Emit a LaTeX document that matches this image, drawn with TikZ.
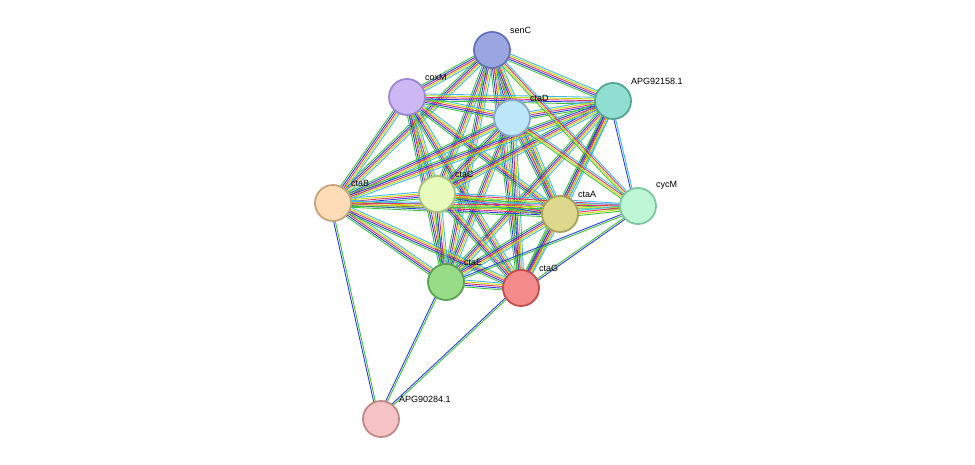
\documentclass[tikz,border=0pt]{standalone}
\usepackage{fontspec}
\setmainfont{Liberation Sans}
\usetikzlibrary{calc}
\definecolor{egreen}{HTML}{3CC13C}
\definecolor{eblue}{HTML}{2E3BE0}
\definecolor{ered}{HTML}{E0306A}
\definecolor{eyel}{HTML}{C4D800}
\definecolor{ecyan}{HTML}{40B8E8}
\definecolor{eblack}{HTML}{303030}
\definecolor{fsenC}{HTML}{9AA6E0}\definecolor{bsenC}{HTML}{6372B8}
\definecolor{fcoxM}{HTML}{CDB8F5}\definecolor{bcoxM}{HTML}{9D87D0}
\definecolor{fctaD}{HTML}{BEE6F9}\definecolor{bctaD}{HTML}{86A8C8}
\definecolor{fapgA}{HTML}{90DDD2}\definecolor{bapgA}{HTML}{55A595}
\definecolor{fctaB}{HTML}{FDDCB7}\definecolor{bctaB}{HTML}{C8A27A}
\definecolor{fctaC}{HTML}{E6FBBC}\definecolor{bctaC}{HTML}{A8C07F}
\definecolor{fctaA}{HTML}{DDD88E}\definecolor{bctaA}{HTML}{A9A25A}
\definecolor{fcycM}{HTML}{BDF7D5}\definecolor{bcycM}{HTML}{7FC79F}
\definecolor{fctaE}{HTML}{98DC88}\definecolor{bctaE}{HTML}{5BA34F}
\definecolor{fctaG}{HTML}{F48A8A}\definecolor{bctaG}{HTML}{C24E4E}
\definecolor{fapgB}{HTML}{F5C3C3}\definecolor{bapgB}{HTML}{BF8A8A}
\tikzset{
  prot/.style={circle, draw=b#1, fill=f#1, line width=1.8pt, minimum size=36pt, inner sep=0pt},
  lab/.style={font=\fontsize{9}{10}\selectfont, anchor=south west, inner sep=1pt},
  edge/.style={line width=0.9pt}
}
% one link = several coloured parallel strokes
\newcommand{\link}[3]{%
  \foreach \c [count=\i] in {#3} {
    \draw[edge, \c] ($(#1)!{(\i-3)*1.7pt}!90:(#2)$) -- ($(#2)!{(\i-3)*1.7pt}!-90:(#1)$);
  }}
\begin{document}
\begin{tikzpicture}[x=1pt,y=-1pt]
\useasboundingbox (0,0) rectangle (975,465);
\coordinate (senC) at (492,50);
\coordinate (coxM) at (407,97);
\coordinate (ctaD) at (512,118);
\coordinate (apgA) at (613,101);
\coordinate (ctaB) at (333,203);
\coordinate (ctaC) at (437,194);
\coordinate (ctaA) at (560,214);
\coordinate (cycM) at (638,206);
\coordinate (ctaE) at (446,282);
\coordinate (ctaG) at (521,288);
\coordinate (apgB) at (381,419);
% dense core
\foreach \a/\b in {senC/coxM,senC/ctaD,senC/apgA,senC/ctaB,senC/ctaC,senC/ctaA,senC/ctaE,senC/ctaG,
  coxM/ctaD,coxM/apgA,coxM/ctaB,coxM/ctaC,coxM/ctaA,coxM/ctaE,coxM/ctaG,
  ctaD/apgA,ctaD/ctaB,ctaD/ctaC,ctaD/ctaA,ctaD/ctaE,ctaD/ctaG,
  apgA/ctaC,apgA/ctaA,apgA/ctaE,apgA/ctaG,apgA/ctaB,
  ctaB/ctaC,ctaB/ctaA,ctaB/ctaE,ctaB/ctaG,
  ctaC/ctaA,ctaC/ctaE,ctaC/ctaG,
  ctaA/ctaE,ctaA/ctaG,ctaE/ctaG}
  {\link{\a}{\b}{egreen,eblue,ered,eyel,ecyan}}
% cycM
\foreach \a in {senC,ctaD,ctaC,ctaB,ctaA}
  {\link{\a}{cycM}{egreen,eyel,ered,ecyan}}
\link{apgA}{cycM}{eblue,ecyan}
\link{ctaG}{cycM}{eblue,egreen}
\link{ctaE}{cycM}{egreen,eblue}
% APG90284.1
\foreach \a in {ctaB,ctaE,ctaG}
  {\link{\a}{apgB}{eblue,egreen}}
% proteins
\foreach \p in {senC,coxM,ctaD,apgA,ctaB,ctaC,ctaA,cycM,ctaE,ctaG,apgB}
  \node[prot=\p] (n\p) at (\p) {};
% labels
\foreach \p/\t in {senC/senC,coxM/coxM,ctaD/ctaD,apgA/APG92158.1,ctaB/ctaB,ctaC/ctaC,
  ctaA/ctaA,cycM/cycM,ctaE/ctaE,ctaG/ctaG,apgB/APG90284.1}
  \node[lab] at ($(\p)+(17,-15)$) {\t};
\end{tikzpicture}
\end{document}
